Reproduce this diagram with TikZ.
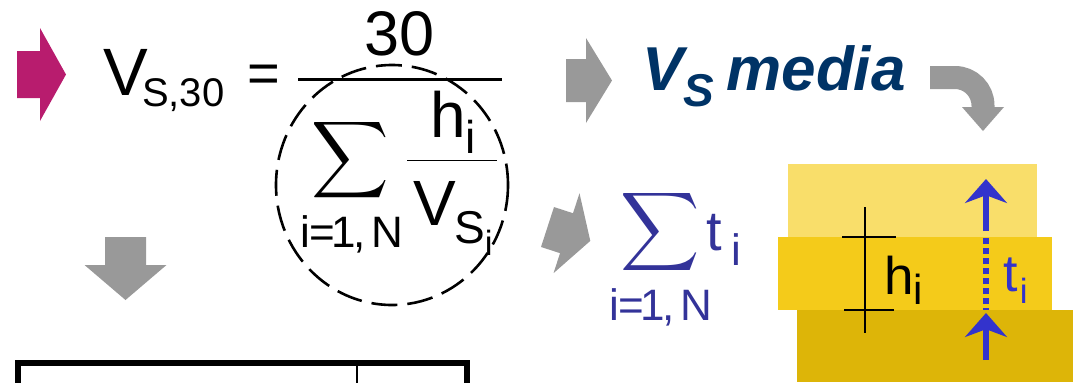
\documentclass[tikz,border=0pt]{standalone}
\usepackage{fontspec}
\setmainfont{Liberation Sans}
\usepackage{graphicx}
\usetikzlibrary{arrows.meta}
\definecolor{magentaarr}{RGB}{184,28,110}
\definecolor{arrowgrey}{RGB}{153,153,153}
\definecolor{navy}{RGB}{0,51,102}
\definecolor{sumblue}{RGB}{51,51,153}
\definecolor{tblue}{RGB}{51,51,204}
\definecolor{layerA}{RGB}{249,222,106}
\definecolor{layerB}{RGB}{244,203,26}
\definecolor{layerC}{RGB}{221,181,8}
\newcommand{\fsz}[1]{\fontsize{#1}{#1}\selectfont}
\newcommand{\bigsum}[1]{\resizebox*{!}{#1}{$\displaystyle\sum$}}
\newcommand{\limtext}{i\kern-0.5pt=\kern-1.5pt1\kern-1.5pt,\kern3pt N}

\begin{document}
\begin{tikzpicture}[x=0.5pt, y=-0.5pt,
    lbl/.style={inner sep=0pt, anchor=base west},
    sumsign/.style={inner sep=0pt},
    fracline/.style={line width=1.5pt},
    dashcirc/.style={line width=1.3pt, dash pattern=on 13pt off 5pt},
    dimline/.style={line width=0.75pt},
    tarrow/.style={-{Stealth[length=12pt,width=21pt]}, tblue, line width=2.6pt},
    tableline/.style={line width=2.75pt},
    pics/blockarr/.style n args={4}{code={
        \fill (0,-#1) -- (#2,-#1) -- (#2,-#3) -- ({#2+#4},0) -- (#2,#3) -- (#2,#1) -- (0,#1) -- cycle;}}]

\useasboundingbox (0,0) rectangle (1073,382);

% V_S,30 formula
\pic[magentaarr] (inarr) at (17,74.5) {blockarr={23.5}{23}{46.5}{26}};
\node[lbl] (vs30) at (103,95) {\fsz{33.5}V\kern-3pt\raisebox{-5.5pt}{\fsz{20}S,30}};
\node[inner sep=0pt] (eq) at (264,79) {\fsz{28}=};
\draw[fracline] (298,79) -- (502,79);
\node[lbl, anchor=base] (num) at (400,55) {\fsz{31.5}30};
\draw[dashcirc] (392,185) ellipse [x radius=116, y radius=120];
\node[sumsign] (sumA) at (350,160) {\bigsum{43pt}};
\node[lbl] (limA) at (300,247) {\fsz{22}\limtext};
\node[lbl] (hA) at (430,137) {\fsz{32}h\raisebox{-8pt}{\fsz{23}i}};
\draw[line width=0.5pt] (407,160) -- (497,160);
\node[lbl] (vsi) at (413,225) {\fsz{32}V\kern-1pt\raisebox{-9pt}{\fsz{23}S\raisebox{-6pt}{\fsz{17.5}i}}};

% down arrow and table
\pic[arrowgrey, rotate=-90] (downarr) at (125.5,237) {blockarr={20.5}{28}{41}{35}};
\draw[tableline] (18,395) -- (18,363) -- (467,363) -- (467,395);
\draw[line width=1pt] (357,363) -- (357,395);

% V_S media
\pic[arrowgrey] (midarr) at (566,80.5) {blockarr={21.5}{20}{42.5}{26}};
\node[lbl, text=navy] (vsmedia) at (642,90) {\fsz{31}\bfseries\itshape V\raisebox{-8pt}{\fsz{23}S}\hspace{6pt}media};
\draw[arrowgrey, line width=11.5pt] (930,77.5) -- (955,77.5) arc[start angle=-90, end angle=0, radius=28] -- (983,108);
\fill[arrowgrey] (962,107) -- (1004,107) -- (983,131) -- cycle;

% sum of t_i
\pic[arrowgrey, rotate=-18] (diagarr) at (547.5,227) {blockarr={21}{20}{42}{25}};
\node[sumsign] (sumB) at (660,232) {\color{sumblue}\bigsum{44pt}};
\node[lbl, text=sumblue] (tsum) at (706,250) {\fsz{28}t\,\raisebox{-7.5pt}{\fsz{22}i}};
\node[lbl, text=sumblue] (limB) at (609,320) {\fsz{22}\limtext};

% layers
\fill[layerA] (788,164) rectangle (1037,237);
\fill[layerB] (778,237) rectangle (1052,310);
\fill[layerC] (797,310) rectangle (1073,382);
\draw[dimline] (865,207) -- (865,333);
\draw[dimline] (842,237) -- (896,237);
\draw[dimline] (844,310) -- (894,310);
\node[lbl] (hB) at (884,294) {\fsz{26.5}h\raisebox{-5pt}{\fsz{21}i}};
\coordinate (tupA) at (986,231);
\coordinate (tupB) at (986,179);
\coordinate (tdotA) at (986,238);
\coordinate (tdotB) at (986,310);
\coordinate (tlowA) at (986,360);
\coordinate (tlowB) at (986,313);
\draw[tarrow] (tupA) -- (tupB);
\draw[tblue, line width=3pt, dash pattern=on 3pt off 2pt] (tdotA) -- (tdotB);
\draw[tarrow] (tlowA) -- (tlowB);
\node[lbl, text=tblue] (tB) at (1003,291) {\fsz{26}t\kern1pt\raisebox{-6pt}{\fsz{17.5}i}};
\end{tikzpicture}
\end{document}
